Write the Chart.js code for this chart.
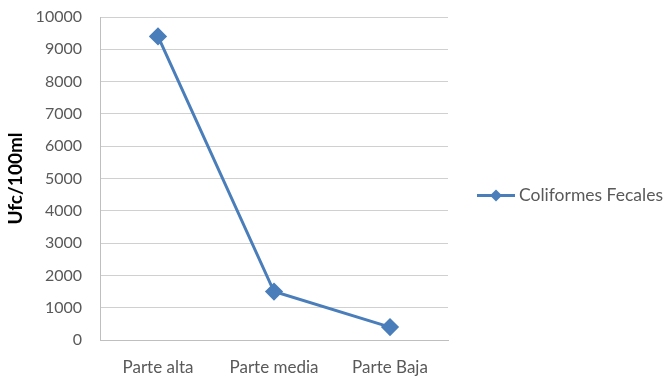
<!DOCTYPE html>
<html>
<head>
<meta charset="utf-8">
<script src="https://cdn.jsdelivr.net/npm/chart.js@4.4.1/dist/chart.umd.min.js"></script>
<style>
  html, body { margin: 0; padding: 0; background: #ffffff; }
  #wrap { width: 664px; height: 379px; position: relative; }
</style>
</head>
<body>
<div id="wrap"><canvas id="c" width="664" height="379"></canvas></div>
<script>
// Fecal coliform counts by river section
const categories = ['Parte alta', 'Parte media', 'Parte Baja'];
const coliformesFecales = [9400, 1500, 400];
const seriesName = 'Coliformes Fecales';
const yTitle = 'Ufc/100ml';

const blue = '#4a7ebb';
const textGray = '#595959';
const font = "Lato, 'Open Sans', sans-serif";

// Legend at the right: short line with a diamond, followed by the series name
const sideLegend = {
  id: 'sideLegend',
  afterDraw(chart) {
    const g = chart.ctx;
    const ds = chart.data.datasets[0];
    const y = (chart.chartArea.top + chart.chartArea.bottom) / 2 + 17;
    const x0 = 477, x1 = 515, xm = 496;
    g.save();
    g.strokeStyle = ds.borderColor; g.lineWidth = 3;
    g.beginPath(); g.moveTo(x0, y); g.lineTo(x1, y); g.stroke();
    g.fillStyle = ds.borderColor;
    g.beginPath(); g.moveTo(xm, y - 6); g.lineTo(xm + 6, y); g.lineTo(xm, y + 6); g.lineTo(xm - 6, y); g.closePath(); g.fill();
    g.fillStyle = textGray;
    g.font = '17.5px ' + font;
    g.textBaseline = 'middle';
    g.fillText(ds.label, 519, y);
    g.restore();
  }
};

new Chart(document.getElementById('c'), {
  type: 'line',
  data: {
    labels: categories,
    datasets: [{
      label: seriesName,
      data: coliformesFecales,
      borderColor: blue,
      backgroundColor: blue,
      borderWidth: 3,
      pointStyle: 'rectRot',
      pointRadius: 7,
      pointHoverRadius: 7,
      pointBackgroundColor: blue,
      pointBorderColor: blue,
      tension: 0
    }]
  },
  options: {
    responsive: false,
    animation: false,
    devicePixelRatio: 1,
    layout: { padding: { left: 0, top: 17, right: 216, bottom: 0 } },
    plugins: {
      tooltip: { enabled: false },
      legend: { display: false }
    },
    scales: {
      x: {
        offset: true,
        grid: { display: false, drawTicks: false },
        border: { display: true, color: '#bfbfbf', width: 1 },
        ticks: { color: textGray, font: { family: font, size: 17 }, padding: 17 },
        afterFit(scale) { scale.height = 39; }
      },
      y: {
        min: 0,
        max: 10000,
        ticks: {
          stepSize: 1000,
          color: textGray,
          font: { family: font, size: 16 },
          padding: 18,
          callback: (v) => String(v)
        },
        grid: { color: '#d0d0d0', lineWidth: 1, drawTicks: false },
        border: { display: true, color: '#bfbfbf', width: 1 },
        title: {
          display: true,
          text: yTitle,
          color: '#000000',
          font: { family: font, size: 19, weight: 'bold' },
          padding: { top: 4, bottom: 4 }
        },
        afterFit(scale) {
          scale.width = 100;
          scale.paddingTop = 0;
          scale.paddingBottom = 0;
        }
      }
    }
  },
  plugins: [sideLegend]
});
</script>
</body>
</html>
